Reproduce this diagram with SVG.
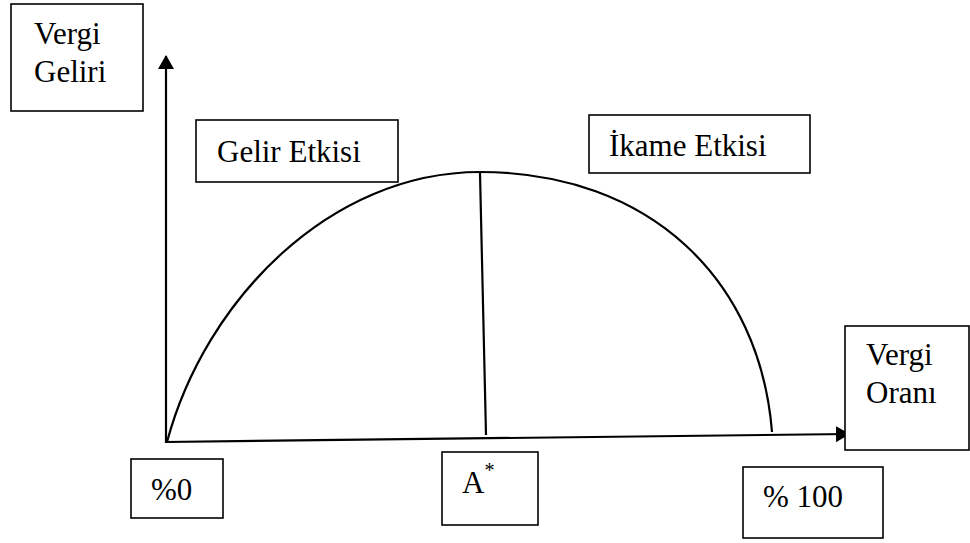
<svg xmlns="http://www.w3.org/2000/svg" width="970" height="543" viewBox="0 0 970 543">
<defs>
<marker id="ahb" markerWidth="14" markerHeight="16" refX="13" refY="8" orient="auto" markerUnits="userSpaceOnUse"><path d="M0,0 L14,8 L0,16 z" fill="#000"/></marker>
</defs>
<rect width="970" height="543" fill="#fff"/>
<g id="connectors" fill="none" stroke="#000" stroke-width="2.2">
<line x1="166" y1="443" x2="166" y2="56" marker-end="url(#ahb)"/>
<line x1="165" y1="442" x2="849" y2="434" marker-end="url(#ahb)"/>
<path d="M167,442 C205,300 330,172 480,172 C650,172 760,280 772,432"/>
<line x1="480" y1="173" x2="486" y2="435"/>
</g>
<g id="vergi-geliri"><rect x="11" y="4" width="132" height="107" fill="#fff" stroke="#000" stroke-width="1.6"/><text style="font-family:'Liberation Serif',serif !important" font-family="Liberation Serif" font-size="31" x="34" y="44">Vergi</text><text style="font-family:'Liberation Serif',serif !important" font-family="Liberation Serif" font-size="31" x="34" y="82">Geliri</text></g>
<g id="gelir-etkisi"><rect x="196" y="120" width="202" height="62" fill="#fff" stroke="#000" stroke-width="1.6"/><text style="font-family:'Liberation Serif',serif !important" font-family="Liberation Serif" font-size="31" x="217" y="162">Gelir Etkisi</text></g>
<g id="ikame-etkisi"><rect x="589" y="115" width="221" height="58" fill="#fff" stroke="#000" stroke-width="1.6"/><text style="font-family:'Liberation Serif',serif !important" font-family="Liberation Serif" font-size="31" x="609" y="156">İkame Etkisi</text></g>
<g id="vergi-orani"><rect x="845" y="326" width="124" height="124" fill="#fff" stroke="#000" stroke-width="1.6"/><text style="font-family:'Liberation Serif',serif !important" font-family="Liberation Serif" font-size="31" x="866" y="365">Vergi</text><text style="font-family:'Liberation Serif',serif !important" font-family="Liberation Serif" font-size="31" x="866" y="403">Oranı</text></g>
<g id="yuzde0"><rect x="131" y="459" width="92" height="59" fill="#fff" stroke="#000" stroke-width="1.6"/><text style="font-family:'Liberation Serif',serif !important" font-family="Liberation Serif" font-size="31" x="151" y="500">%0</text></g>
<g id="a-star"><rect x="442" y="452" width="96" height="73" fill="#fff" stroke="#000" stroke-width="1.6"/><text style="font-family:'Liberation Serif',serif !important" font-family="Liberation Serif" font-size="31" x="462" y="493">A<tspan font-size="20" dy="-16">*</tspan></text></g>
<g id="yuzde100"><rect x="743" y="467" width="140" height="71" fill="#fff" stroke="#000" stroke-width="1.6"/><text style="font-family:'Liberation Serif',serif !important" font-family="Liberation Serif" font-size="31" x="763" y="507">% 100</text></g>
</svg>
